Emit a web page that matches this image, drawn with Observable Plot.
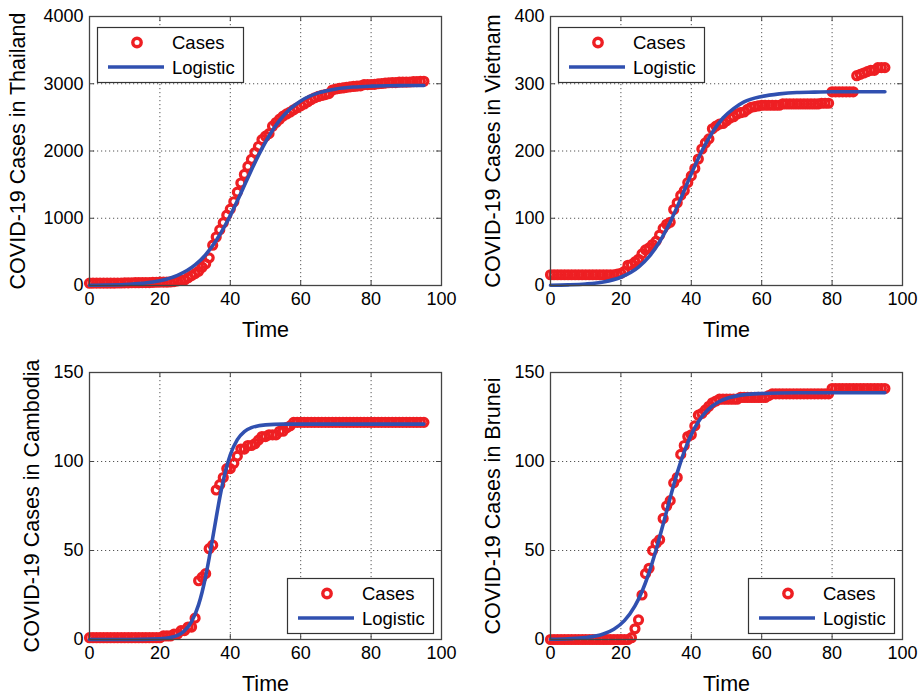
<!DOCTYPE html>
<html>
<head>
<meta charset="utf-8">
<script src="https://cdn.jsdelivr.net/npm/d3@7"></script>
<script src="https://cdn.jsdelivr.net/npm/@observablehq/plot@0.6"></script>
<style>
  body { margin: 0; background: #fff; }
  #wrap { position: relative; width: 920px; height: 700px; overflow: hidden; background: #fff; }
  .panel { position: absolute; }
  .panel svg { overflow: visible; }
</style>
</head>
<body>
<div id="wrap"></div>
<script>
// ---------- data ----------
const days = d3.range(0, 96); // Time = 0 ... 95

const xTicks = [0, 20, 40, 60, 80, 100];
const xLabel = "Time";
const legendLabels = ["Cases", "Logistic"];

// Thailand
const thailandCases = [
  34,35,35,35,35,35,35,35,37,37,40,40,41,42,
  42,43,43,43,47,48,50,50,50,53,59,70,75,82,
  114,147,177,212,272,322,411,599,
  721,827,934,1045,1136,1245,1388,1524,1651,1771,1875,1978,2067,2169,
  2220,2258,2369,2423,2473,2518,2551,2579,2613,2643,2672,2700,2733,2765,
  2792,2811,2826,2839,2854,2907,2922,2931,2938,2947,2954,2960,2966,2969,
  2987,2988,2989,2992,3000,3004,3009,3015,3017,3018,3025,3025,3025,3026,3031,3033,3034,3037
];
const thailandFitT = [0,5,10,15,20,25,30,33,36,39,42,45,48,51,54,57,60,65,70,75,80,85,90,95];
const thailandFitV = [3,7,15,33,70,149,305,458,668,938,1259,1603,1934,2223,2454,2626,2745,2864,2923,2951,2964,2970,2973,2974];
const thailandYTicks = [0, 1000, 2000, 3000, 4000];
const thailandLabel = "COVID-19 Cases in Thailand";

// Vietnam
const vietnamCases = [
  16,16,16,16,16,16,16,16,16,16,16,16,16,16,16,16,16,16,16,
  17,18,21,30,31,35,39,47,53,56,61,66,75,85,91,94,113,123,134,141,153,163,174,188,
  203,212,218,233,237,240,241,245,249,251,255,257,258,262,265,266,267,268,
  268,268,268,268,268,
  270,270,270,270,270,270,270,270,270,270,270,271,271,271,
  288,288,288,288,288,288,288,
  312,314,316,318,320,320,324,324,324
];
const vietnamFitT = [0,5,10,15,20,25,28,31,34,37,40,43,46,49,52,55,60,65,70,75,80,85,90,95];
const vietnamFitV = [0.4,1.0,2.3,5.3,12.3,27.2,42.9,65,94.4,129,166,200,228,249,263,273,281,285,287,287.5,288,288,288,288];
const vietnamYTicks = [0, 100, 200, 300, 400];
const vietnamLabel = "COVID-19 Cases in Vietnam";

// Cambodia
const cambodiaCases = [
  1,1,1,1,1,1,1,1,1,1,1,1,1,1,1,1,1,1,1,1,1,
  2,2,2,3,3,5,5,7,7,12,33,35,37,51,53,84,87,91,96,96,99,103,107,107,109,109,110,112,114,114,115,115,115,117,117,119,120,
  122,122,122,122,122,122,122,122,122,122,122,122,122,122,122,122,122,122,122,
  122,122,122,122,122,122,122,122,122,122,122,122,122,122,122,122,122,122,122
];
const cambodiaFitT = [0,10,15,20,23,25,27,29,31,32,33,34,35,36,37,38,39,40,42,44,46,50,55,60,70,80,95];
const cambodiaFitV = [0,0,0.05,0.35,1.1,2.3,4.9,10,19.6,26.7,35.5,45.8,57,68.5,79.6,89.2,97.3,103.8,112.3,116.8,119,120.6,121,121,121,121,121];
const cambodiaYTicks = [0, 50, 100, 150];
const cambodiaLabel = "COVID-19 Cases in Cambodia";

// Brunei
const bruneiCases = [
  0,0,0,0,0,0,0,0,0,0,0,0,0,0,0,0,0,0,0,0,0,0,0,
  1,6,11,25,37,40,50,54,56,68,75,78,88,91,104,109,114,115,120,126,127,129,131,133,134,
  135,135,135,135,135,135,
  136,136,136,136,136,136,136,136,
  137,
  138,138,138,138,138,138,138,138,138,138,138,138,138,138,138,138,138,
  141,141,141,141,141,141,141,141,141,141,141,141,141,141,141,141
];
const bruneiFitT = [0,5,10,15,18,21,24,26,28,30,32,34,36,38,40,42,44,46,48,50,55,60,65,70,80,95];
const bruneiFitV = [0.1,0.4,1.1,3.1,5.8,10.6,18.9,27,37.6,50.4,64.8,79.6,93.6,105.6,115.1,122.3,127.6,131.2,133.7,135.4,137.5,138.2,138.5,138.6,138.6,138.6];
const bruneiYTicks = [0, 50, 100, 150];
const bruneiLabel = "COVID-19 Cases in Brunei";

// ---------- styling ----------
const FONT = '"Liberation Sans", Arial, Helvetica, sans-serif';
const RED = "#ee1f23";
const BLUE = "#3050b0";
const BOX = "#444";
const GRID = "#555";

const wrap = document.getElementById("wrap");

function addPanel(cfg) {
  const W = 460, H = 350;
  const { cases, fitT, fitV, yTicks, ylabel, left, top, mL, mT, innerH, legendCorner, labelDx } = cfg;
  const innerW = 352;
  const mR = W - mL - innerW;
  const mB = H - mT - innerH;
  const pts = days.map((t, i) => ({ t, v: cases[i] }));
  const fit = fitT.map((t, i) => ({ t, v: fitV[i] }));
  const yMax = yTicks[yTicks.length - 1];

  const svg = Plot.plot({
    width: W, height: H,
    marginLeft: mL, marginRight: mR, marginTop: mT, marginBottom: mB,
    style: { fontFamily: FONT, fontSize: "18px", color: "#000", background: "transparent", overflow: "visible" },
    x: { domain: [0, 100], ticks: xTicks, tickSize: 0, tickPadding: 7, label: null, tickFormat: d3.format("d") },
    y: { domain: [0, yMax], ticks: yTicks, tickSize: 0, tickPadding: 6, label: null, tickFormat: d3.format("d") },
    marks: [
      Plot.ruleX(xTicks.slice(1, -1), { x: d => d, stroke: GRID, strokeWidth: 1, strokeDasharray: "1.2,2.8" }),
      Plot.ruleY(yTicks.slice(1, -1), { y: d => d, stroke: GRID, strokeWidth: 1, strokeDasharray: "1.2,2.8" }),
      Plot.tickX(xTicks, { x: d => d, insetTop: innerH - 5, stroke: BOX }),
      Plot.tickX(xTicks, { x: d => d, insetBottom: innerH - 5, stroke: BOX }),
      Plot.tickY(yTicks, { y: d => d, insetRight: innerW - 5, stroke: BOX }),
      Plot.tickY(yTicks, { y: d => d, insetLeft: innerW - 5, stroke: BOX }),
      Plot.dot(pts, { x: "t", y: "v", r: 4, stroke: RED, strokeWidth: 3.2, fill: "none" }),
      Plot.line(fit, { x: "t", y: "v", stroke: BLUE, strokeWidth: 3.6, curve: "monotone-x" }),
      Plot.frame({ stroke: BOX, strokeWidth: 1.3 }),
      Plot.text([xLabel], { frameAnchor: "bottom", lineAnchor: "middle", dy: 45, text: d => d, fontSize: 21.5, fill: "#000" }),
      Plot.text([ylabel], { frameAnchor: "left", textAnchor: "middle", lineAnchor: "middle", rotate: -90, dx: labelDx, text: d => d, fontSize: 21.5, fill: "#000" })
    ]
  });

  const holder = document.createElement("div");
  holder.className = "panel";
  holder.style.left = left + "px";
  holder.style.top = top + "px";
  holder.appendChild(svg);
  wrap.appendChild(holder);

  // legend
  const LW = 146, LH = 55;
  const boxLeft = left + mL, boxTop = top + mT, boxRight = boxLeft + innerW, boxBottom = boxTop + innerH;
  let lx, ly;
  if (legendCorner === "nw") { lx = boxLeft + 8; ly = boxTop + 11; }
  else { lx = boxRight - 8 - LW; ly = boxBottom - 6 - LH; }
  const lg = d3.create("svg")
    .attr("width", LW + 2).attr("height", LH + 2)
    .style("position", "absolute").style("left", lx + "px").style("top", ly + "px")
    .style("overflow", "visible");
  lg.append("rect").attr("x", 0.5).attr("y", 0.5).attr("width", LW).attr("height", LH)
    .attr("fill", "#fff").attr("stroke", "#333").attr("stroke-width", 1.2);
  lg.append("circle").attr("cx", 40).attr("cy", 15.5).attr("r", 4.2)
    .attr("fill", "none").attr("stroke", RED).attr("stroke-width", 3.4);
  lg.append("line").attr("x1", 11).attr("x2", 67).attr("y1", 40).attr("y2", 40)
    .attr("stroke", BLUE).attr("stroke-width", 3.6);
  [15.5, 40].forEach((y, i) => {
    lg.append("text").attr("x", 75).attr("y", y).attr("dy", "0.36em")
      .attr("font-family", FONT).attr("font-size", 18.5).attr("fill", "#000")
      .text(legendLabels[i]);
  });
  wrap.appendChild(lg.node());
}

addPanel({ cases: thailandCases, fitT: thailandFitT, fitV: thailandFitV, yTicks: thailandYTicks, ylabel: thailandLabel,
  left: 0, top: 0, mL: 89, mT: 16, innerH: 269, legendCorner: "nw", labelDx: -71 });
addPanel({ cases: vietnamCases, fitT: vietnamFitT, fitV: vietnamFitV, yTicks: vietnamYTicks, ylabel: vietnamLabel,
  left: 460, top: 0, mL: 90, mT: 16, innerH: 269, legendCorner: "nw", labelDx: -57 });
addPanel({ cases: cambodiaCases, fitT: cambodiaFitT, fitV: cambodiaFitV, yTicks: cambodiaYTicks, ylabel: cambodiaLabel,
  left: 0, top: 356, mL: 89, mT: 16, innerH: 267, legendCorner: "se", labelDx: -57 });
addPanel({ cases: bruneiCases, fitT: bruneiFitT, fitV: bruneiFitV, yTicks: bruneiYTicks, ylabel: bruneiLabel,
  left: 460, top: 356, mL: 90, mT: 16, innerH: 267, legendCorner: "se", labelDx: -57 });
</script>
</body>
</html>
